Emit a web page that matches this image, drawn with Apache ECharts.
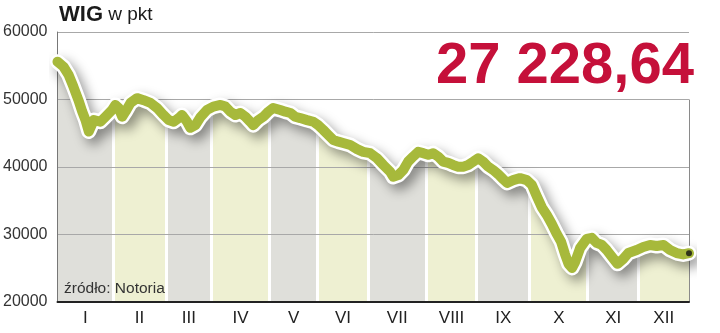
<!DOCTYPE html>
<html><head><meta charset="utf-8">
<script src="https://cdn.jsdelivr.net/npm/echarts@6/dist/echarts.min.js"></script>
<style>html,body{margin:0;padding:0;background:#fff}#c{width:720px;height:333px}</style>
</head><body><div id="c"></div>
<script>
// ---- data ----
const monthLabels = ['I','II','III','IV','V','VI','VII','VIII','IX','X','XI','XII'];
const monthTradingDays = [22,21,18,23,19,20,23,20,21,23,20,20];
const yTicks = [20000,30000,40000,50000,60000];
const day = [0,2.4,4.4,6.3,8.3,9.8,11.1,12.4,14.4,17.0,19.0,21.6,
22.9,24.2,25.6,26.9,28.9,31.5,34.1,36.8,39.4,42.0,
44.0,46.0,48.0,49.3,51.3,52.6,54.6,56.6,59.2,
61.7,64.5,66.5,68.4,70.4,72.4,74.4,76.3,77.5,79.5,81.5,83.5,
85.4,88.2,90.2,92.2,94.1,96.1,98.8,101.3,
103.2,105.2,107.2,109.2,111.2,113.1,115.9,118.6,121.0,
123.8,126.5,129.0,131.7,132.9,134.9,136.9,138.8,140.8,142.8,144.8,
146.8,148.7,150.7,152.7,154.7,156.6,158.6,160.6,162.6,164.6,
166.5,168.5,170.5,172.5,174.4,176.4,178.0,180.4,183.1,185.8,
187.8,189.7,191.7,193.7,195.7,197.7,199.4,200.9,202.3,203.7,204.9,206.9,209.5,
211.5,213.5,215.5,217.4,219.9,221.7,223.9,226.0,229.3,
231.9,234.6,237.2,239.9,242.5,245.1,247.7,250];
const wig = [55600,54850,53650,51900,49900,48200,46950,45250,46950,46700,47450,48450,
49200,48750,47450,48200,49500,50200,49900,49500,48750,47700,
46950,46700,47250,47700,46700,45800,46200,47400,48450,
48950,49200,48950,48200,47700,48000,47450,46700,46200,46950,47450,48200,
48750,48450,48200,48000,47450,47250,46950,46700,
46200,45500,44750,44000,43750,43550,43250,42650,42250,
42050,41300,40300,39300,38550,38800,39550,40800,41550,42250,42050,
41800,42050,41550,40800,40600,40300,40050,40050,40300,40800,
41300,40800,40050,39550,38950,38200,37650,38050,38350,38050,
37350,35700,34050,32900,31550,30050,28900,27100,25650,25050,25900,28000,29350,
29500,28750,28450,27700,26500,25650,26350,27250,27700,
28150,28450,28300,28450,27700,27250,27050,27228.64];
const lastValueText = '27 228,64';
const titleMain = 'WIG';
const titleUnit = 'w pkt';
const sourceText = 'źródło: Notoria';

// ---- derived ----
const edges = [0];
monthTradingDays.forEach(d => edges.push(edges[edges.length - 1] + d));
const xMax = edges[edges.length - 1];
const centres = monthLabels.map((_, i) => (edges[i] + edges[i + 1]) / 2);
const points = day.map((d, i) => [d, wig[i]]);
const GAP = 0.6;
const stripeColors = ['#dfdfda', '#eef0d2'];
const pieces = monthLabels.map((_, i) => ({
  min: i === 0 ? -50 : edges[i] + GAP,
  max: i === monthLabels.length - 1 ? xMax + 50 : edges[i + 1] - GAP,
  color: stripeColors[i % 2]
}));
const FONT = '"Liberation Sans", Arial, sans-serif';

const chart = echarts.init(document.getElementById('c'), null, {renderer: 'canvas'});
chart.setOption({
  animation: false,
  backgroundColor: '#fff',
  title: [
    {left: 59, top: 4, padding: 0, text: '{a|' + titleMain + '}{b| ' + titleUnit + '}',
     textStyle: {rich: {
       a: {fontSize: 22, fontWeight: 'bold', color: '#1a1a1a', fontFamily: FONT},
       b: {fontSize: 19, fontWeight: 'normal', color: '#1a1a1a', fontFamily: FONT}}}},
    {right: 26, top: 38, padding: 0, text: lastValueText,
     textStyle: {fontSize: 58, fontWeight: 'bold', color: '#c5103a', fontFamily: FONT}},
    {left: 64, top: 281, padding: 0, text: sourceText,
     textStyle: {fontSize: 15.5, fontWeight: 'normal', color: '#333', fontFamily: FONT}}
  ],
  grid: {left: 57, right: 31, top: 32, bottom: 31, containLabel: false},
  xAxis: {
    type: 'value', min: 0, max: xMax, z: 3,
    splitLine: {show: false},
    axisLine: {show: true, lineStyle: {color: '#222', width: 2}},
    axisTick: {show: false},
    axisLabel: {
      customValues: centres, margin: 8,
      fontSize: 17, color: '#222', fontFamily: FONT,
      formatter: v => {
        let best = 0;
        centres.forEach((c, i) => { if (Math.abs(c - v) < Math.abs(centres[best] - v)) best = i; });
        return monthLabels[best];
      }
    }
  },
  yAxis: {
    type: 'value', min: yTicks[0], max: yTicks[yTicks.length - 1], interval: yTicks[1] - yTicks[0], z: 3,
    axisLine: {show: true, lineStyle: {color: '#777', width: 1}},
    axisTick: {show: false},
    splitLine: {show: true, lineStyle: {color: '#a8a8a8', width: 1}},
    axisLabel: {fontSize: 16, color: '#333', margin: 10, fontFamily: FONT, formatter: v => String(v)}
  },
  visualMap: {
    show: false, type: 'piecewise', seriesIndex: 0, dimension: 0,
    pieces: pieces, outOfRange: {color: '#ffffff'}
  },
  series: [
    {type: 'line', data: points, z: 1, showSymbol: false, symbol: 'none',
     lineStyle: {width: 0, opacity: 0},
     areaStyle: {opacity: 1, origin: 'start'},
     silent: true,
     markLine: {silent: true, symbol: 'none', label: {show: false}, z: 2,
       lineStyle: {color: '#8a8a8a', width: 1, type: 'solid'},
       data: [[{coord: [xMax, yTicks[0]]}, {coord: [xMax, yTicks[3]]}]]}},
    {type: 'line', data: points, z: 4, showSymbol: false, symbol: 'none', clip: false, silent: true,
     lineStyle: {color: '#ffffff', width: 15, cap: 'round', join: 'round',
       shadowColor: 'rgba(0,0,0,0.4)', shadowBlur: 12, shadowOffsetX: 5, shadowOffsetY: 6}},
    {type: 'line', data: points, z: 5, showSymbol: false, symbol: 'none', clip: false, silent: true,
     lineStyle: {color: '#a7b93b', width: 10, cap: 'round', join: 'round'}},
    {type: 'scatter', data: [points[points.length - 1]], z: 6, symbol: 'circle', symbolSize: 6,
     clip: false, silent: true, itemStyle: {color: '#111'}}
  ]
});
</script>
</body></html>
